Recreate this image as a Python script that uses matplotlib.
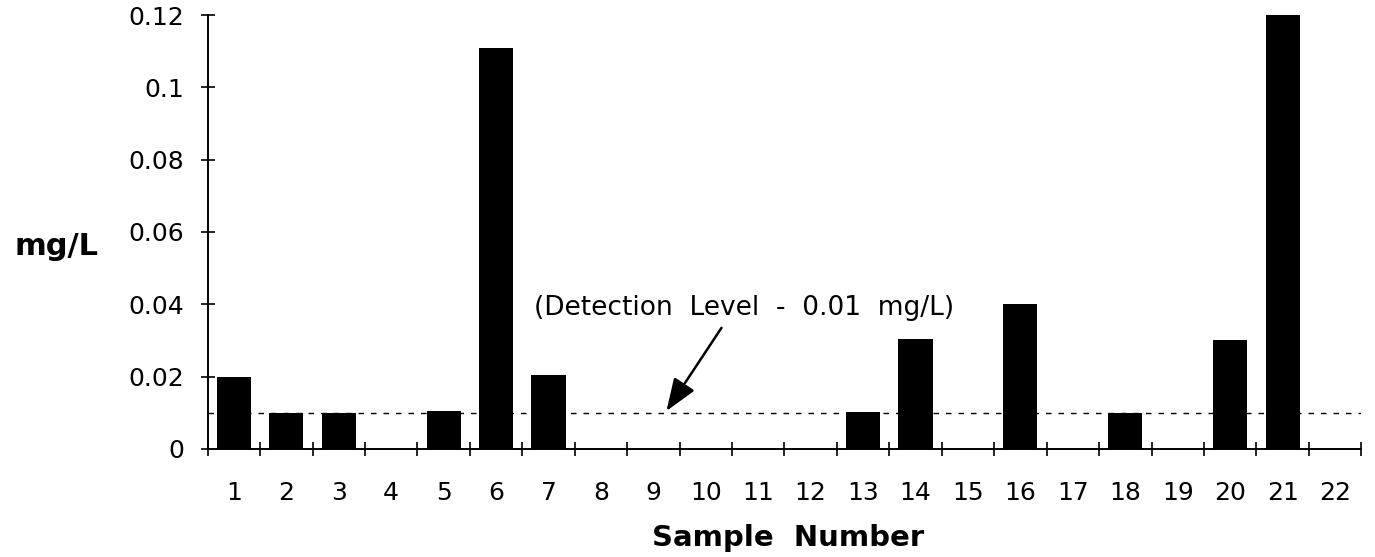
import numpy as np
import matplotlib.pyplot as plt
from matplotlib.ticker import FixedLocator

samples = list(range(1, 23))
values = [0.020, 0.010, 0.010, 0.0, 0.0105, 0.111, 0.0205, 0.0, 0.0, 0.0, 0.0,
          0.0, 0.0103, 0.0305, 0.0, 0.040, 0.0, 0.010, 0.0, 0.030, 0.120, 0.0]
yticks = [0, 0.02, 0.04, 0.06, 0.08, 0.1, 0.12]
ytick_labels = ['0', '0.02', '0.04', '0.06', '0.08', '0.1', '0.12']
detection_level = 0.01

plt.rcParams['font.family'] = ['DejaVu Sans']

fig = plt.figure(figsize=(13.75, 5.57), dpi=100)
ax = fig.add_axes([0.151, 0.194, 0.839, 0.779])

ax.axhline(detection_level, color='black', lw=1, ls=(0, (4, 5)), zorder=1)
ax.bar(samples, values, width=0.65, color='black', zorder=2)

ax.set_xlim(0.5, 22.5)
ax.set_ylim(0, 0.12)

ax.spines['top'].set_visible(False)
ax.spines['right'].set_visible(False)
ax.spines['left'].set_linewidth(1.4)
ax.spines['bottom'].set_linewidth(1.4)

ax.set_yticks(yticks)
ax.set_yticklabels(ytick_labels, fontsize=18)
ax.tick_params(axis='y', direction='inout', length=10, width=1.2, pad=12)

ax.set_xticks(samples)
ax.set_xticklabels([str(s) for s in samples], fontsize=18)
ax.tick_params(axis='x', which='major', length=0, pad=23)
ax.xaxis.set_minor_locator(FixedLocator(np.arange(0.5, 23.0, 1.0)))
ax.tick_params(axis='x', which='minor', direction='inout', length=10, width=1.2)

# detection level note and arrow
ax.text(10.73, 0.039, '(Detection  Level  -  0.01  mg/L)', fontsize=19,
        ha='center', va='center')
ax.annotate('', xy=(9.25, 0.0105), xytext=(10.3, 0.0335),
            arrowprops=dict(arrowstyle='-|>,head_length=2.0,head_width=0.75',
                            color='black', lw=1.8, shrinkA=0, shrinkB=0))

fig.text(0.041, 0.557, 'mg/L', fontsize=22, fontweight='bold', ha='center', va='center')
fig.text(0.573, 0.034, 'Sample  Number', fontsize=21, fontweight='bold', ha='center', va='center')

fig.savefig('out.png', dpi=100)
